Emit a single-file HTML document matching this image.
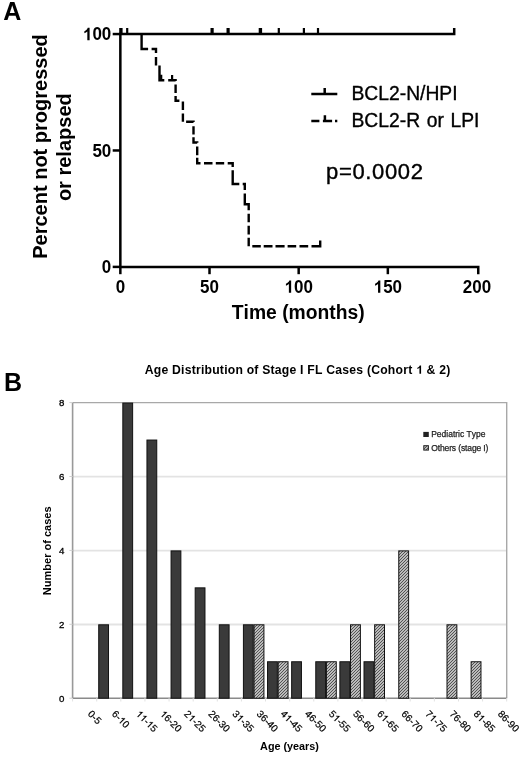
<!DOCTYPE html>
<html><head><meta charset="utf-8"><style>
html,body{margin:0;padding:0;background:#fff;}
svg{display:block;font-family:"Liberation Sans", sans-serif;will-change:transform;font-kerning:none;}
</style></head><body>
<svg width="520" height="757" viewBox="0 0 520 757">
<rect width="520" height="757" fill="#fff"/>
<text x="3.35" y="20" font-size="25" font-weight="bold">A</text>
<text transform="translate(46.9,146.5) rotate(-90)" text-anchor="middle" font-size="20" font-weight="bold">Percent not progressed</text>
<text transform="translate(71.3,147.2) rotate(-90)" text-anchor="middle" font-size="20" font-weight="bold">or relapsed</text>
<path d="M120.35,32.849999999999994 V268.15 M119.1,266.9 H478.25 V274.2" stroke="#000" stroke-width="2.5" fill="none" stroke-linecap="butt"/>
<path d="M112.7,34.05 H120.35" stroke="#000" stroke-width="2.5"/>
<path d="M112.7,150.47 H120.35" stroke="#000" stroke-width="2.5"/>
<path d="M112.7,266.90 H120.35" stroke="#000" stroke-width="2.5"/>
<path d="M120.35,266.9 V274.2" stroke="#000" stroke-width="2.5"/>
<path d="M209.51,266.9 V274.2" stroke="#000" stroke-width="2.5"/>
<path d="M298.67,266.9 V274.2" stroke="#000" stroke-width="2.5"/>
<path d="M387.84,266.9 V274.2" stroke="#000" stroke-width="2.5"/>
<g transform="translate(111.30,40.15) scale(1,1.05)"><text x="-28.36" y="0" font-size="17" font-weight="bold" fill="#000"><tspan fill="transparent" stroke="none">1</tspan>00</text><path transform="translate(-28.36,0) scale(0.008301,-0.008301)" d="M803,0 L528,0 L528,996 C428,905 309,838 173,794 L173,1033 C245,1055 322,1098 406,1161 C490,1223 548,1307 580,1409 L803,1409 Z" fill="#000"/></g>
<g transform="translate(111.30,156.57) scale(1,1.05)"><text x="-18.91" y="0" font-size="17" font-weight="bold" fill="#000">50</text></g>
<g transform="translate(111.30,273.00) scale(1,1.05)"><text x="-9.45" y="0" font-size="17" font-weight="bold" fill="#000">0</text></g>
<g transform="translate(120.35,292.70) scale(1,1.05)"><text x="-4.73" y="0" font-size="17" font-weight="bold" fill="#000">0</text></g>
<g transform="translate(209.51,292.70) scale(1,1.05)"><text x="-9.45" y="0" font-size="17" font-weight="bold" fill="#000">50</text></g>
<g transform="translate(298.67,292.70) scale(1,1.05)"><text x="-14.18" y="0" font-size="17" font-weight="bold" fill="#000"><tspan fill="transparent" stroke="none">1</tspan>00</text><path transform="translate(-14.18,0) scale(0.008301,-0.008301)" d="M803,0 L528,0 L528,996 C428,905 309,838 173,794 L173,1033 C245,1055 322,1098 406,1161 C490,1223 548,1307 580,1409 L803,1409 Z" fill="#000"/></g>
<g transform="translate(387.84,292.70) scale(1,1.05)"><text x="-14.18" y="0" font-size="17" font-weight="bold" fill="#000"><tspan fill="transparent" stroke="none">1</tspan>50</text><path transform="translate(-14.18,0) scale(0.008301,-0.008301)" d="M803,0 L528,0 L528,996 C428,905 309,838 173,794 L173,1033 C245,1055 322,1098 406,1161 C490,1223 548,1307 580,1409 L803,1409 Z" fill="#000"/></g>
<g transform="translate(477.00,292.70) scale(1,1.05)"><text x="-14.18" y="0" font-size="17" font-weight="bold" fill="#000">200</text></g>
<g transform="translate(298.30,319.10) scale(1,1.03)"><text x="-66.48" y="0" font-size="19.3" font-weight="bold" fill="#000">Time (months)</text></g>
<path d="M120.35,34.05 H454.2 V28" stroke="#000" stroke-width="2.5" fill="none"/>
<path d="M120.9,34.05 V28" stroke="#000" stroke-width="3.4"/>
<path d="M127.2,34.05 V28" stroke="#000" stroke-width="2.2"/>
<path d="M212.1,34.05 V28" stroke="#000" stroke-width="3.2"/>
<path d="M228.1,34.05 V28" stroke="#000" stroke-width="3.2"/>
<path d="M260.4,34.05 V28" stroke="#000" stroke-width="3.4"/>
<path d="M278.8,34.05 V28" stroke="#000" stroke-width="2.2"/>
<path d="M303.9,34.05 V28" stroke="#000" stroke-width="2.2"/>
<path d="M318.0,34.05 V28" stroke="#000" stroke-width="2.2"/>
<path d="M141.6,34.05 L141.6,49.0 L148.1,49.0 M151.6,49.0 L156.0,49.0 L156.0,53.1 M156.0,57.1 L156.0,65.4 M159.5,65.4 L159.5,80.3 L164.3,80.3 M168.2,80.3 L175.6,80.3 L175.6,80.9 M175.6,84.6 L175.6,93.1 M175.6,95.9 L175.6,100.8 L179.4,100.8 M182.9,101.5 L182.9,110.1 M182.9,113.5 L182.9,121.7 M186.1,121.7 L193.5,121.7 L193.5,122.0 M193.5,126.2 L193.5,134.5 M193.5,137.3 L193.5,142.5 L197.2,142.5 L197.2,142.8 M197.2,146.6 L197.2,155.2 M197.2,157.7 L197.2,163.3 L200.5,163.3 M204.0,163.3 L212.5,163.3 M215.8,163.3 L224.2,163.3 M227.7,163.3 L232.7,163.3 L232.7,167.0 M232.7,170.3 L232.7,184.0 L239.3,184.0 M242.7,184.0 L244.8,184.0 L244.8,190.1 M244.8,193.5 L244.8,204.2 L248.7,204.2 L248.7,210.3 M248.7,213.8 L248.7,222.2 M248.7,225.7 L248.7,234.4 M248.7,237.7 L248.7,246.3 M252.3,246.3 L260.8,246.3 M263.7,246.3 L272.5,246.3 M275.5,246.3 L284.6,246.3 M287.6,246.3 L296.2,246.3 M299.5,246.3 L308.2,246.3 M311.5,246.3 L320.2,246.3 L320.2,240.5" stroke="#000" stroke-width="2.4" fill="none" stroke-linejoin="miter"/>
<path d="M161.2,80.3 V74.8 M172.1,80.3 V75.1" stroke="#000" stroke-width="2.2"/>
<path d="M311.3,93.9 H337.3 M324.7,93.9 V88.1" stroke="#000" stroke-width="2.5"/>
<path d="M311.3,121 H319.4 M322.9,121 H332.1 M335,121 H337.3 M324.9,121 V115.2" stroke="#000" stroke-width="2.5"/>
<text x="351.5" y="100.2" font-size="19.3" stroke="#000" stroke-width="0.35" stroke-linejoin="round">BCL2-N/HPI</text>
<text x="351.5" y="127.2" font-size="19.3" word-spacing="1.3" stroke="#000" stroke-width="0.35" stroke-linejoin="round">BCL2-R or LPI</text>
<text x="326" y="178.8" font-size="22" letter-spacing="0.65" stroke="#000" stroke-width="0.4" stroke-linejoin="round">p=0.0002</text>
<text x="4.1" y="390.6" font-size="25" font-weight="bold">B</text>
<g transform="translate(297.80,373.80)"><text x="-153.04" y="0" font-size="12.2" font-weight="bold" fill="#000" letter-spacing="0.22">Age Distribution of Stage I FL Cases (Cohort <tspan fill="transparent" stroke="none">1</tspan> &amp; 2)</text><path transform="translate(118.50,0) scale(0.005957,-0.005957)" d="M803,0 L528,0 L528,996 C428,905 309,838 173,794 L173,1033 C245,1055 322,1098 406,1161 C490,1223 548,1307 580,1409 L803,1409 Z" fill="#000"/></g>
<path d="M72.6,624.50 H506.7" stroke="#e3e3e3" stroke-width="1.8"/>
<path d="M72.6,550.60 H506.7" stroke="#e3e3e3" stroke-width="1.8"/>
<path d="M72.6,476.70 H506.7" stroke="#e3e3e3" stroke-width="1.8"/>
<path d="M72.6,402.6 H506.7 V698.2" stroke="#a8a8a8" stroke-width="1.4" fill="none"/>
<path d="M72.6,402.6 V698.2" stroke="#999" stroke-width="1.6" fill="none"/>
<path d="M69.4,698.20 H72.6" stroke="#d0d0d0" stroke-width="1"/>
<text x="64.4" y="701.70" text-anchor="end" font-size="9.7" stroke="#000" stroke-width="0.3" stroke-linejoin="round">0</text>
<path d="M69.4,624.30 H72.6" stroke="#d0d0d0" stroke-width="1"/>
<text x="64.4" y="627.80" text-anchor="end" font-size="9.7" stroke="#000" stroke-width="0.3" stroke-linejoin="round">2</text>
<path d="M69.4,550.40 H72.6" stroke="#d0d0d0" stroke-width="1"/>
<text x="64.4" y="553.90" text-anchor="end" font-size="9.7" stroke="#000" stroke-width="0.3" stroke-linejoin="round">4</text>
<path d="M69.4,476.50 H72.6" stroke="#d0d0d0" stroke-width="1"/>
<text x="64.4" y="480.00" text-anchor="end" font-size="9.7" stroke="#000" stroke-width="0.3" stroke-linejoin="round">6</text>
<path d="M69.4,402.60 H72.6" stroke="#d0d0d0" stroke-width="1"/>
<text x="64.4" y="406.10" text-anchor="end" font-size="9.7" stroke="#000" stroke-width="0.3" stroke-linejoin="round">8</text>
<path d="M72.6,698.2 H506.7" stroke="#8a8a8a" stroke-width="1.4"/>
<path d="M72.60,698.2 V701.5" stroke="#e2e2e2" stroke-width="1"/>
<path d="M96.72,698.2 V701.5" stroke="#e2e2e2" stroke-width="1"/>
<path d="M120.83,698.2 V701.5" stroke="#e2e2e2" stroke-width="1"/>
<path d="M144.95,698.2 V701.5" stroke="#e2e2e2" stroke-width="1"/>
<path d="M169.07,698.2 V701.5" stroke="#e2e2e2" stroke-width="1"/>
<path d="M193.18,698.2 V701.5" stroke="#e2e2e2" stroke-width="1"/>
<path d="M217.30,698.2 V701.5" stroke="#e2e2e2" stroke-width="1"/>
<path d="M241.42,698.2 V701.5" stroke="#e2e2e2" stroke-width="1"/>
<path d="M265.53,698.2 V701.5" stroke="#e2e2e2" stroke-width="1"/>
<path d="M289.65,698.2 V701.5" stroke="#e2e2e2" stroke-width="1"/>
<path d="M313.77,698.2 V701.5" stroke="#e2e2e2" stroke-width="1"/>
<path d="M337.88,698.2 V701.5" stroke="#e2e2e2" stroke-width="1"/>
<path d="M362.00,698.2 V701.5" stroke="#e2e2e2" stroke-width="1"/>
<path d="M386.12,698.2 V701.5" stroke="#e2e2e2" stroke-width="1"/>
<path d="M410.23,698.2 V701.5" stroke="#e2e2e2" stroke-width="1"/>
<path d="M434.35,698.2 V701.5" stroke="#e2e2e2" stroke-width="1"/>
<path d="M458.47,698.2 V701.5" stroke="#e2e2e2" stroke-width="1"/>
<path d="M482.58,698.2 V701.5" stroke="#e2e2e2" stroke-width="1"/>
<path d="M506.70,698.2 V701.5" stroke="#e2e2e2" stroke-width="1"/>
<defs><pattern id="h" width="3" height="3" patternUnits="userSpaceOnUse"><rect width="3" height="3" fill="#e6e6e6"/><path d="M-1,1 L1,-1 M0,3 L3,0 M2,4 L4,2" stroke="#4a4a4a" stroke-width="1.06"/></pattern></defs>
<rect x="98.72" y="624.80" width="9.80" height="73.40" fill="#3a3a3a" stroke="#111" stroke-width="1"/>
<rect x="122.83" y="403.10" width="9.80" height="295.10" fill="#3a3a3a" stroke="#111" stroke-width="1"/>
<rect x="146.95" y="440.05" width="9.80" height="258.15" fill="#3a3a3a" stroke="#111" stroke-width="1"/>
<rect x="171.07" y="550.90" width="9.80" height="147.30" fill="#3a3a3a" stroke="#111" stroke-width="1"/>
<rect x="195.18" y="587.85" width="9.80" height="110.35" fill="#3a3a3a" stroke="#111" stroke-width="1"/>
<rect x="219.30" y="624.80" width="9.80" height="73.40" fill="#3a3a3a" stroke="#111" stroke-width="1"/>
<rect x="243.42" y="624.80" width="9.80" height="73.40" fill="#3a3a3a" stroke="#111" stroke-width="1"/>
<rect x="254.07" y="624.80" width="9.85" height="73.40" fill="url(#h)" stroke="#111" stroke-width="1"/>
<rect x="267.53" y="661.75" width="9.80" height="36.45" fill="#3a3a3a" stroke="#111" stroke-width="1"/>
<rect x="278.18" y="661.75" width="9.85" height="36.45" fill="url(#h)" stroke="#111" stroke-width="1"/>
<rect x="291.65" y="661.75" width="9.80" height="36.45" fill="#3a3a3a" stroke="#111" stroke-width="1"/>
<rect x="315.77" y="661.75" width="9.80" height="36.45" fill="#3a3a3a" stroke="#111" stroke-width="1"/>
<rect x="326.42" y="661.75" width="9.85" height="36.45" fill="url(#h)" stroke="#111" stroke-width="1"/>
<rect x="339.88" y="661.75" width="9.80" height="36.45" fill="#3a3a3a" stroke="#111" stroke-width="1"/>
<rect x="350.53" y="624.80" width="9.85" height="73.40" fill="url(#h)" stroke="#111" stroke-width="1"/>
<rect x="364.00" y="661.75" width="9.80" height="36.45" fill="#3a3a3a" stroke="#111" stroke-width="1"/>
<rect x="374.65" y="624.80" width="9.85" height="73.40" fill="url(#h)" stroke="#111" stroke-width="1"/>
<rect x="398.77" y="550.90" width="9.85" height="147.30" fill="url(#h)" stroke="#111" stroke-width="1"/>
<rect x="447.00" y="624.80" width="9.85" height="73.40" fill="url(#h)" stroke="#111" stroke-width="1"/>
<rect x="471.12" y="661.75" width="9.85" height="36.45" fill="url(#h)" stroke="#111" stroke-width="1"/>
<g transform="translate(87.16,714.60) rotate(45)"><text x="0.00" y="0" font-size="10.0" fill="#000" stroke="#000" stroke-width="0.22" stroke-linejoin="round">0-5</text></g>
<g transform="translate(111.27,714.60) rotate(45)"><text x="0.00" y="0" font-size="10.0" fill="#000" stroke="#000" stroke-width="0.22" stroke-linejoin="round">6-<tspan fill="transparent" stroke="none">1</tspan>0</text><path transform="translate(8.89,0) scale(0.004883,-0.004883)" d="M763,0 L583,0 L583,1095 C540,1056 483,1017 413,978 C343,939 280,909 225,890 L225,1056 C326,1101 414,1157 489,1220 C564,1285 617,1347 648,1409 L763,1409 Z" fill="#000" stroke="#000" stroke-width="45.1" stroke-linejoin="round"/></g>
<g transform="translate(135.39,714.60) rotate(45)"><text x="0.00" y="0" font-size="10.0" fill="#000" stroke="#000" stroke-width="0.22" stroke-linejoin="round"><tspan fill="transparent" stroke="none">1</tspan><tspan fill="transparent" stroke="none">1</tspan>-<tspan fill="transparent" stroke="none">1</tspan>5</text><path transform="translate(0.00,0) scale(0.004883,-0.004883)" d="M763,0 L583,0 L583,1095 C540,1056 483,1017 413,978 C343,939 280,909 225,890 L225,1056 C326,1101 414,1157 489,1220 C564,1285 617,1347 648,1409 L763,1409 Z" fill="#000" stroke="#000" stroke-width="45.1" stroke-linejoin="round"/><path transform="translate(5.56,0) scale(0.004883,-0.004883)" d="M763,0 L583,0 L583,1095 C540,1056 483,1017 413,978 C343,939 280,909 225,890 L225,1056 C326,1101 414,1157 489,1220 C564,1285 617,1347 648,1409 L763,1409 Z" fill="#000" stroke="#000" stroke-width="45.1" stroke-linejoin="round"/><path transform="translate(14.45,0) scale(0.004883,-0.004883)" d="M763,0 L583,0 L583,1095 C540,1056 483,1017 413,978 C343,939 280,909 225,890 L225,1056 C326,1101 414,1157 489,1220 C564,1285 617,1347 648,1409 L763,1409 Z" fill="#000" stroke="#000" stroke-width="45.1" stroke-linejoin="round"/></g>
<g transform="translate(159.51,714.60) rotate(45)"><text x="0.00" y="0" font-size="10.0" fill="#000" stroke="#000" stroke-width="0.22" stroke-linejoin="round"><tspan fill="transparent" stroke="none">1</tspan>6-20</text><path transform="translate(0.00,0) scale(0.004883,-0.004883)" d="M763,0 L583,0 L583,1095 C540,1056 483,1017 413,978 C343,939 280,909 225,890 L225,1056 C326,1101 414,1157 489,1220 C564,1285 617,1347 648,1409 L763,1409 Z" fill="#000" stroke="#000" stroke-width="45.1" stroke-linejoin="round"/></g>
<g transform="translate(183.62,714.60) rotate(45)"><text x="0.00" y="0" font-size="10.0" fill="#000" stroke="#000" stroke-width="0.22" stroke-linejoin="round">2<tspan fill="transparent" stroke="none">1</tspan>-25</text><path transform="translate(5.56,0) scale(0.004883,-0.004883)" d="M763,0 L583,0 L583,1095 C540,1056 483,1017 413,978 C343,939 280,909 225,890 L225,1056 C326,1101 414,1157 489,1220 C564,1285 617,1347 648,1409 L763,1409 Z" fill="#000" stroke="#000" stroke-width="45.1" stroke-linejoin="round"/></g>
<g transform="translate(207.74,714.60) rotate(45)"><text x="0.00" y="0" font-size="10.0" fill="#000" stroke="#000" stroke-width="0.22" stroke-linejoin="round">26-30</text></g>
<g transform="translate(231.86,714.60) rotate(45)"><text x="0.00" y="0" font-size="10.0" fill="#000" stroke="#000" stroke-width="0.22" stroke-linejoin="round">3<tspan fill="transparent" stroke="none">1</tspan>-35</text><path transform="translate(5.56,0) scale(0.004883,-0.004883)" d="M763,0 L583,0 L583,1095 C540,1056 483,1017 413,978 C343,939 280,909 225,890 L225,1056 C326,1101 414,1157 489,1220 C564,1285 617,1347 648,1409 L763,1409 Z" fill="#000" stroke="#000" stroke-width="45.1" stroke-linejoin="round"/></g>
<g transform="translate(255.97,714.60) rotate(45)"><text x="0.00" y="0" font-size="10.0" fill="#000" stroke="#000" stroke-width="0.22" stroke-linejoin="round">36-40</text></g>
<g transform="translate(280.09,714.60) rotate(45)"><text x="0.00" y="0" font-size="10.0" fill="#000" stroke="#000" stroke-width="0.22" stroke-linejoin="round">4<tspan fill="transparent" stroke="none">1</tspan>-45</text><path transform="translate(5.56,0) scale(0.004883,-0.004883)" d="M763,0 L583,0 L583,1095 C540,1056 483,1017 413,978 C343,939 280,909 225,890 L225,1056 C326,1101 414,1157 489,1220 C564,1285 617,1347 648,1409 L763,1409 Z" fill="#000" stroke="#000" stroke-width="45.1" stroke-linejoin="round"/></g>
<g transform="translate(304.21,714.60) rotate(45)"><text x="0.00" y="0" font-size="10.0" fill="#000" stroke="#000" stroke-width="0.22" stroke-linejoin="round">46-50</text></g>
<g transform="translate(328.32,714.60) rotate(45)"><text x="0.00" y="0" font-size="10.0" fill="#000" stroke="#000" stroke-width="0.22" stroke-linejoin="round">5<tspan fill="transparent" stroke="none">1</tspan>-55</text><path transform="translate(5.56,0) scale(0.004883,-0.004883)" d="M763,0 L583,0 L583,1095 C540,1056 483,1017 413,978 C343,939 280,909 225,890 L225,1056 C326,1101 414,1157 489,1220 C564,1285 617,1347 648,1409 L763,1409 Z" fill="#000" stroke="#000" stroke-width="45.1" stroke-linejoin="round"/></g>
<g transform="translate(352.44,714.60) rotate(45)"><text x="0.00" y="0" font-size="10.0" fill="#000" stroke="#000" stroke-width="0.22" stroke-linejoin="round">56-60</text></g>
<g transform="translate(376.56,714.60) rotate(45)"><text x="0.00" y="0" font-size="10.0" fill="#000" stroke="#000" stroke-width="0.22" stroke-linejoin="round">6<tspan fill="transparent" stroke="none">1</tspan>-65</text><path transform="translate(5.56,0) scale(0.004883,-0.004883)" d="M763,0 L583,0 L583,1095 C540,1056 483,1017 413,978 C343,939 280,909 225,890 L225,1056 C326,1101 414,1157 489,1220 C564,1285 617,1347 648,1409 L763,1409 Z" fill="#000" stroke="#000" stroke-width="45.1" stroke-linejoin="round"/></g>
<g transform="translate(400.67,714.60) rotate(45)"><text x="0.00" y="0" font-size="10.0" fill="#000" stroke="#000" stroke-width="0.22" stroke-linejoin="round">66-70</text></g>
<g transform="translate(424.79,714.60) rotate(45)"><text x="0.00" y="0" font-size="10.0" fill="#000" stroke="#000" stroke-width="0.22" stroke-linejoin="round">7<tspan fill="transparent" stroke="none">1</tspan>-75</text><path transform="translate(5.56,0) scale(0.004883,-0.004883)" d="M763,0 L583,0 L583,1095 C540,1056 483,1017 413,978 C343,939 280,909 225,890 L225,1056 C326,1101 414,1157 489,1220 C564,1285 617,1347 648,1409 L763,1409 Z" fill="#000" stroke="#000" stroke-width="45.1" stroke-linejoin="round"/></g>
<g transform="translate(448.91,714.60) rotate(45)"><text x="0.00" y="0" font-size="10.0" fill="#000" stroke="#000" stroke-width="0.22" stroke-linejoin="round">76-80</text></g>
<g transform="translate(473.02,714.60) rotate(45)"><text x="0.00" y="0" font-size="10.0" fill="#000" stroke="#000" stroke-width="0.22" stroke-linejoin="round">8<tspan fill="transparent" stroke="none">1</tspan>-85</text><path transform="translate(5.56,0) scale(0.004883,-0.004883)" d="M763,0 L583,0 L583,1095 C540,1056 483,1017 413,978 C343,939 280,909 225,890 L225,1056 C326,1101 414,1157 489,1220 C564,1285 617,1347 648,1409 L763,1409 Z" fill="#000" stroke="#000" stroke-width="45.1" stroke-linejoin="round"/></g>
<g transform="translate(497.14,714.60) rotate(45)"><text x="0.00" y="0" font-size="10.0" fill="#000" stroke="#000" stroke-width="0.22" stroke-linejoin="round">86-90</text></g>
<text transform="translate(51.4,550.8) rotate(-90)" text-anchor="middle" font-size="11" font-weight="bold">Number of cases</text>
<text x="289.5" y="750.4" text-anchor="middle" font-size="10.8" font-weight="bold">Age (years)</text>
<rect x="423.3" y="431.9" width="5.5" height="5.1" fill="#222"/>
<rect x="423.8" y="445.7" width="4.6" height="4.4" fill="url(#h)" stroke="#222" stroke-width="1"/>
<text x="431.2" y="436.9" font-size="8.5" fill="#222" stroke="#222" stroke-width="0.25" stroke-linejoin="round">Pediatric Type</text>
<text x="431.2" y="450.8" font-size="8.5" fill="#222" stroke="#222" stroke-width="0.25" stroke-linejoin="round" letter-spacing="-0.12">Others (stage I)</text>
</svg>
</body></html>
